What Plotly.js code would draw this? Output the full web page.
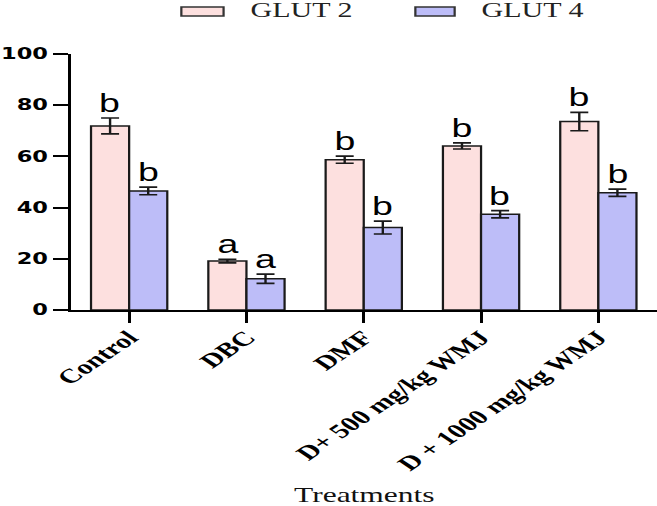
<!DOCTYPE html>
<html>
<head>
<meta charset="utf-8">
<script src="https://cdn.plot.ly/plotly-3.0.1.min.js"></script>
<style>
  html, body { margin: 0; padding: 0; background: #ffffff; overflow: hidden; }
  #wrap { width: 657px; height: 506px; overflow: hidden; }
  #chart { width: 438px; height: 506px; transform: scaleX(1.5); transform-origin: 0 0; }
</style>
</head>
<body>
<div id="wrap"><div id="chart"></div></div>
<script>
// ---- data ----
const categories = ['Control', 'DBC', 'DMF', 'D+ 500 mg/kg WMJ', 'D + 1000 mg/kg WMJ'];
const seriesNames = ['GLUT 2', 'GLUT 4'];
const glut2 = [71.9, 19.1, 58.7, 64.1, 73.6];
const glut2Err = [3.1, 0.7, 1.4, 1.2, 3.6];
const glut4 = [46.5, 12.2, 32.2, 37.4, 45.8];
const glut4Err = [1.5, 1.8, 2.5, 1.4, 1.4];
const glut2Letters = ['b', 'a', 'b', 'b', 'b'];
const glut4Letters = ['b', 'a', 'b', 'b', 'b'];
const yTicks = [0, 20, 40, 60, 80, 100];
const xTitle = 'Treatments';

// ---- styles ----
const pinkFill = '#fde0df';
const blueFill = '#bdbdf8';
const edge = '#1a1a1a';
const bargap = 0.35;

function barTrace(name, vals, errs, fill) {
  return {
    type: 'bar', name: name, x: categories, y: vals,
    marker: { color: fill, line: { color: edge, width: 1.5 } },
    error_y: { type: 'data', array: errs, visible: true, color: edge, thickness: 1.6, width: 6 },
    hoverinfo: 'x+y'
  };
}

const data = [
  barTrace(seriesNames[0], glut2, glut2Err, pinkFill),
  barTrace(seriesNames[1], glut4, glut4Err, blueFill)
];

// significance letters above the error bars
const off = (1 - bargap) / 4;
const annotations = [];
categories.forEach((c, i) => {
  annotations.push({ x: i - off, y: glut2[i] + glut2Err[i], xref: 'x', yref: 'y', text: glut2Letters[i],
    showarrow: false, yanchor: 'bottom', yshift: -1,
    font: { family: 'Liberation Sans, Arial, sans-serif', size: 25, color: '#000' } });
  annotations.push({ x: i + off, y: glut4[i] + glut4Err[i], xref: 'x', yref: 'y', text: glut4Letters[i],
    showarrow: false, yanchor: 'bottom', yshift: -1,
    font: { family: 'Liberation Sans, Arial, sans-serif', size: 25, color: '#000' } });
});

// x-axis title placed below the rotated tick labels
annotations.push({ xref: 'paper', yref: 'paper', x: 0.5, y: -0.721, text: xTitle,
  showarrow: false, xanchor: 'center', yanchor: 'middle',
  font: { family: 'Liberation Serif, Times New Roman, serif', size: 21, color: '#111' } });

// custom legend (wide boxes as in the reference)
const legendBoxes = [[0.189, 0.261], [0.588, 0.655]];
const legendTextX = [0.302, 0.696];
const fills = [pinkFill, blueFill];
const shapes = [];
seriesNames.forEach((n, k) => {
  shapes.push({ type: 'rect', xref: 'paper', yref: 'paper',
    x0: legendBoxes[k][0], x1: legendBoxes[k][1], y0: 1.1484, y1: 1.1836,
    fillcolor: fills[k], line: { color: '#333', width: 1.5 } });
  annotations.push({ xref: 'paper', yref: 'paper', x: legendTextX[k], y: 1.17, text: n,
    showarrow: false, xanchor: 'left', yanchor: 'middle',
    font: { family: 'Liberation Serif, Times New Roman, serif', size: 20, color: '#222' } });
});

const layout = {
  width: 438, height: 506,
  margin: { l: 47, r: 0, t: 54, b: 196 },
  paper_bgcolor: '#ffffff', plot_bgcolor: '#ffffff',
  barmode: 'group', bargap: bargap, bargroupgap: 0,
  showlegend: false,
  xaxis: {
    type: 'category', range: [-0.5, 4.5],
    showline: true, linecolor: '#000', linewidth: 2,
    ticks: 'outside', ticklen: 11, tickwidth: 2, tickcolor: '#000',
    tickangle: -45, showgrid: false, zeroline: false,
    ticklabelstandoff: -5,
    tickfont: { family: 'Liberation Serif, Times New Roman, serif', size: 20, color: '#000', weight: 700 },
    automargin: false
  },
  yaxis: {
    range: [0, 100], tickvals: yTicks, ticktext: yTicks.map(String),
    showline: true, linecolor: '#000', linewidth: 2,
    ticks: 'outside', ticklen: 10, tickwidth: 2, tickcolor: '#000',
    showgrid: false, zeroline: false,
    tickfont: { family: 'DejaVu Sans, sans-serif', size: 15, color: '#000', weight: 700 },
    automargin: false
  },
  annotations: annotations,
  shapes: shapes
};

Plotly.newPlot('chart', data, layout, { displayModeBar: false, staticPlot: true });
</script>
</body>
</html>
